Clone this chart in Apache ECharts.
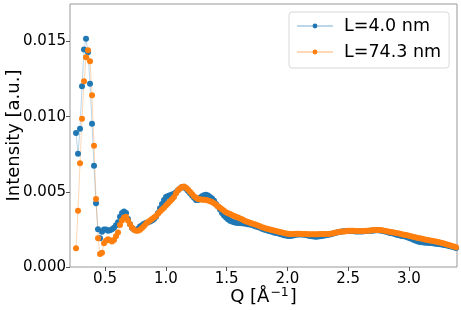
<!DOCTYPE html>
<html>
<head>
<meta charset="utf-8">
<script src="https://cdn.jsdelivr.net/npm/echarts@6/dist/echarts.min.js"></script>
<style>
html,body{margin:0;padding:0;background:#fff;}
#c{width:461px;height:310px;}
</style>
</head>
<body>
<div id="c"></div>
<script>
// Q grid (Å^-1): uniform sampling of the measured curves
const qStart = 0.2615;
const qStep = 0.01645;
const seriesNames = ['L=4.0 nm', 'L=74.3 nm'];
// Intensities in units of 1e-3 a.u.
const blueVals = [
  8.91, 7.53, 9.20, 12.02, 14.47, 15.18, 14.29, 12.20, 9.53, 6.73,
  4.25, 2.51, 1.91, 2.35, 2.50, 2.50, 2.42, 2.45, 2.52, 2.62,
  2.78, 2.98, 3.35, 3.60, 3.69, 3.60, 3.20, 2.85, 2.60, 2.50,
  2.47, 2.55, 2.69, 2.78, 2.87, 2.93, 2.97, 3.02, 3.10, 3.20,
  3.35, 3.60, 3.91, 4.20, 4.45, 4.65, 4.72, 4.78, 4.82, 4.88,
  4.98, 5.10, 5.22, 5.32, 5.33, 5.20, 5.05, 4.91, 4.75, 4.60,
  4.45, 4.45, 4.60, 4.70, 4.78, 4.80, 4.75, 4.65, 4.55, 4.40,
  4.20, 4.02, 3.82, 3.60, 3.42, 3.30, 3.18, 3.08, 3.02, 2.97,
  2.95, 2.93, 2.92, 2.91, 2.90, 2.87, 2.85, 2.82, 2.80, 2.75,
  2.70, 2.66, 2.61, 2.55, 2.50, 2.46, 2.42, 2.38, 2.34, 2.30,
  2.27, 2.24, 2.20, 2.16, 2.12, 2.09, 2.07, 2.06, 2.08, 2.12,
  2.15, 2.17, 2.17, 2.16, 2.15, 2.13, 2.10, 2.07, 2.05, 2.03,
  2.02, 2.03, 2.05, 2.07, 2.10, 2.12, 2.14, 2.17, 2.20, 2.24,
  2.28, 2.32, 2.35, 2.37, 2.38, 2.39, 2.40, 2.40, 2.39, 2.38,
  2.37, 2.36, 2.36, 2.37, 2.38, 2.39, 2.40, 2.41, 2.42, 2.43,
  2.44, 2.44, 2.43, 2.41, 2.38, 2.35, 2.31, 2.27, 2.24, 2.21,
  2.17, 2.13, 2.10, 2.07, 2.04, 2.01, 1.97, 1.92, 1.86, 1.80,
  1.74, 1.69, 1.66, 1.64, 1.63, 1.62, 1.61, 1.60, 1.59, 1.57,
  1.55, 1.53, 1.51, 1.49, 1.47, 1.44, 1.41, 1.38, 1.34, 1.31,
  1.27
];
const orangeVals = [
  1.25, 3.75, 6.91, 9.87, 12.36, 13.96, 14.42, 13.69, 11.42, 8.07,
  4.53, 1.91, 0.87, 0.95, 1.58, 1.75, 1.85, 1.78, 1.69, 1.80,
  2.05, 2.30, 2.80, 3.10, 3.30, 3.35, 3.10, 2.85, 2.62, 2.48,
  2.42, 2.42, 2.48, 2.60, 2.72, 2.87, 3.00, 3.10, 3.20, 3.30,
  3.40, 3.55, 3.70, 3.82, 3.95, 4.10, 4.23, 4.38, 4.50, 4.65,
  4.90, 5.10, 5.22, 5.32, 5.35, 5.28, 5.15, 5.00, 4.85, 4.70,
  4.60, 4.52, 4.50, 4.48, 4.47, 4.45, 4.42, 4.38, 4.33, 4.25,
  4.15, 4.03, 3.94, 3.85, 3.75, 3.65, 3.58, 3.52, 3.46, 3.40,
  3.35, 3.30, 3.23, 3.17, 3.10, 3.04, 2.99, 2.95, 2.90, 2.86,
  2.81, 2.76, 2.71, 2.65, 2.61, 2.57, 2.53, 2.49, 2.46, 2.43,
  2.40, 2.37, 2.33, 2.30, 2.26, 2.23, 2.21, 2.20, 2.20, 2.20,
  2.21, 2.21, 2.21, 2.20, 2.20, 2.19, 2.18, 2.18, 2.18, 2.18,
  2.18, 2.18, 2.19, 2.19, 2.19, 2.20, 2.20, 2.21, 2.23, 2.26,
  2.29, 2.32, 2.35, 2.36, 2.37, 2.38, 2.41, 2.42, 2.42, 2.41,
  2.40, 2.40, 2.40, 2.40, 2.40, 2.41, 2.42, 2.43, 2.45, 2.46,
  2.47, 2.47, 2.47, 2.45, 2.42, 2.39, 2.37, 2.34, 2.32, 2.30,
  2.27, 2.24, 2.21, 2.18, 2.15, 2.13, 2.10, 2.07, 2.03, 2.00,
  1.96, 1.93, 1.91, 1.88, 1.85, 1.82, 1.79, 1.76, 1.74, 1.72,
  1.69, 1.66, 1.63, 1.60, 1.56, 1.52, 1.48, 1.44, 1.40, 1.36,
  1.32
];
const xTicks = [0.5, 1.0, 1.5, 2.0, 2.5, 3.0];
const yTicks = [0, 0.005, 0.010, 0.015];

const toPairs = vals => vals.map((v, i) => [qStart + i * qStep, v * 1e-3]);

const font = 'DejaVu Sans';
const chart = echarts.init(document.getElementById('c'), null, {renderer: 'canvas'});
const mkSeries = (name, vals, color) => ({
  name: name,
  type: 'line',
  data: toPairs(vals),
  symbol: 'circle',
  symbolSize: 6,
  showSymbol: true,
  showAllSymbol: true,
  itemStyle: {color: color},
  lineStyle: {color: color, width: 1, opacity: 0.3},
  emphasis: {disabled: true},
  animation: false
});
chart.setOption({
  animation: false,
  grid: {left: 70, right: 4, top: 4, bottom: 43, show: true, borderColor: '#999', borderWidth: 1,
         containLabel: false, outerBoundsMode: 'none'},
  xAxis: {
    type: 'value', min: 0.212, max: 3.395,
    axisLine: {show: false},
    axisTick: {show: true, inside: false, length: 4, lineStyle: {color: '#555'}, customValues: xTicks},
    axisLabel: {fontFamily: font, fontSize: 15, color: '#000', margin: 5,
      customValues: xTicks, formatter: v => v.toFixed(1)},
    splitLine: {show: false},
    name: '{a|Q [Å}{s|−1}{a|]}',
    nameLocation: 'middle', nameGap: 19, nameMoveOverlap: false,
    nameTextStyle: {
      rich: {
        a: {fontFamily: font, fontSize: 18, color: '#000', lineHeight: 22},
        s: {fontFamily: font, fontSize: 12.5, color: '#000', verticalAlign: 'top', lineHeight: 22, padding: [0, 1, 9, 1]}
      }
    }
  },
  yAxis: {
    type: 'value', min: 0, max: 0.0175,
    axisLine: {show: false},
    axisTick: {show: true, inside: false, length: 4, lineStyle: {color: '#555'}, customValues: yTicks},
    axisLabel: {fontFamily: font, fontSize: 15, color: '#000', margin: 4,
      customValues: yTicks, formatter: v => v.toFixed(3)},
    splitLine: {show: false},
    name: 'Intensity [a.u.]',
    nameLocation: 'middle', nameGap: 47, nameRotate: 90, nameMoveOverlap: false,
    nameTextStyle: {fontFamily: font, fontSize: 18, color: '#000'}
  },
  legend: {
    show: true,
    orient: 'vertical',
    left: 289, top: 12,
    padding: [4, 8, 6, 7],
    itemWidth: 36, itemHeight: 6, itemGap: 6,
    borderColor: '#d8d8d8', borderWidth: 1, borderRadius: 3,
    backgroundColor: 'rgba(255,255,255,0.8)',
    textStyle: {fontFamily: font, fontSize: 17.5, color: '#000', lineHeight: 20, padding: [0, 0, 0, 6]},
    selectedMode: false,
    data: seriesNames
  },
  series: [
    mkSeries(seriesNames[0], blueVals, '#1f77b4'),
    mkSeries(seriesNames[1], orangeVals, '#ff7f0e')
  ]
});
</script>
</body>
</html>
